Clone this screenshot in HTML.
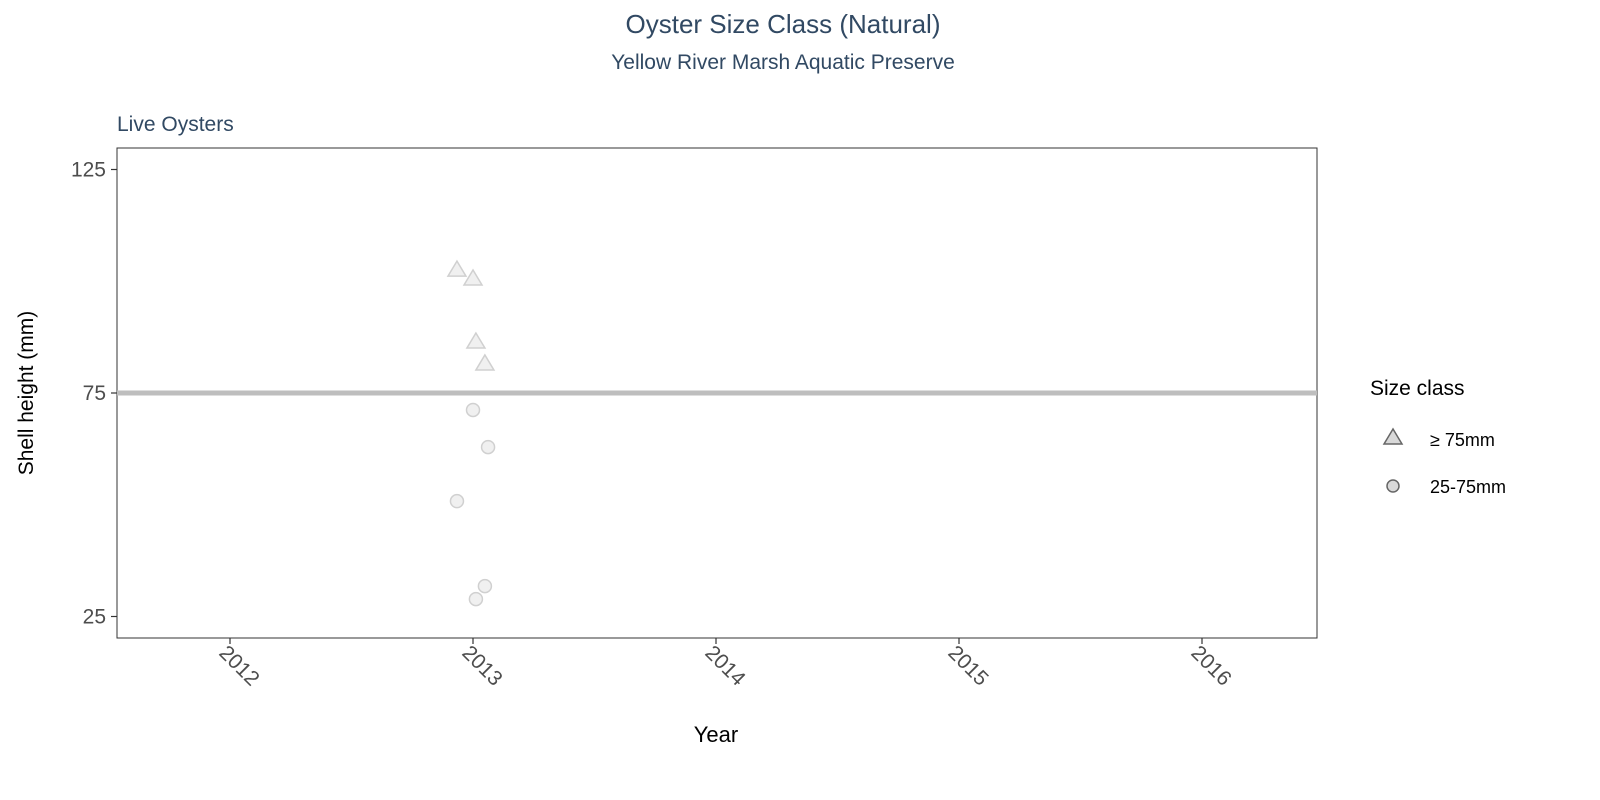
<!DOCTYPE html>
<html><head><meta charset="utf-8"><style>
body{margin:0;background:#fff;font-family:"Liberation Sans",Arial,sans-serif;overflow:hidden}
</style></head><body>
<svg width="1600" height="800" xmlns="http://www.w3.org/2000/svg" font-family="Liberation Sans, Arial, sans-serif" style="display:block">
<text x="783" y="33" text-anchor="middle" font-size="26" fill="#314963">Oyster Size Class (Natural)</text>
<text x="783" y="69" text-anchor="middle" font-size="21" fill="#314963">Yellow River Marsh Aquatic Preserve</text>
<text x="117" y="131" font-size="21" fill="#314963">Live Oysters</text>
<rect x="117" y="148" width="1200" height="490" fill="none" stroke="#333" stroke-width="1"/>
<g id="yaxis"></g>
<g id="xaxis"></g>
<line id="refline" x1="117" x2="1317" stroke="#bebebe" stroke-width="5"/>
<g id="marks"></g>
<text transform="translate(33,393) rotate(-90)" text-anchor="middle" font-size="21" fill="#000">Shell height (mm)</text>
<text x="716" y="742" text-anchor="middle" font-size="22" fill="#000">Year</text>
<g>
<text x="1370" y="395" font-size="21" fill="#000">Size class</text>
<g>
<polygon points="1393,429 1384,444 1402,444" fill="#d9d9d9" stroke="#666" stroke-width="1.5"/>
<text x="1430" y="446" font-size="18" fill="#000">≥ 75mm</text></g>
<g>
<circle cx="1393" cy="486" r="6" fill="#d9d9d9" stroke="#666" stroke-width="1.5"/>
<text x="1430" y="493" font-size="18" fill="#000">25-75mm</text></g>
</g>
</svg>
<script>
const yTicks=[25,75,125];
const xTicks=[2012,2013,2014,2015,2016];
const refValue=75;
const triYears=[2012.934,2013.0,2013.012,2013.049];
const triHeights=[102.5,100.5,86.4,81.5];
const circYears=[2013.0,2013.062,2012.934,2013.049,2013.012];
const circHeights=[71.2,62.9,50.8,31.8,28.9];
const NS="http://www.w3.org/2000/svg";
function y(v){return 393-(v-75)*4.47;}
function x(v){return 230+(v-2012)*243;}
function mk(t,a,p){const e=document.createElementNS(NS,t);for(const k in a)e.setAttribute(k,a[k]);p.appendChild(e);return e;}
const ya=document.getElementById('yaxis'),xa=document.getElementById('xaxis'),m=document.getElementById('marks');
yTicks.forEach(v=>{
 const l=mk('line',{x1:111,x2:117,y1:y(v),y2:y(v),stroke:'#333','stroke-width':1.2},ya);
 
 
 const t=mk('text',{x:106,y:y(v)+7,'text-anchor':'end','font-size':21,fill:'#4d4d4d'},ya);t.textContent=v;
 
 
});
xTicks.forEach(v=>{
 const l=mk('line',{x1:x(v),x2:x(v),y1:638,y2:644,stroke:'#333','stroke-width':1.2},xa);
 
 
 const t=mk('text',{x:0,y:0,'font-size':21,fill:'#4d4d4d',transform:`translate(${x(v)-12},${654}) rotate(45)`},xa);t.textContent=v;
 
 
});
const rl=document.getElementById('refline');rl.setAttribute('y1',y(refValue));rl.setAttribute('y2',y(refValue));
triYears.forEach((yr,i)=>{
 const cx=x(yr),cy=y(triHeights[i]);
 const p=mk('polygon',{points:`${cx},${cy-9} ${cx-9},${cy+6} ${cx+9},${cy+6}`,fill:'#f0f0f0',stroke:'#d0d0d0','stroke-width':1.5},m);
 
 
});
circYears.forEach((yr,i)=>{
 const c=mk('circle',{cx:x(yr),cy:y(circHeights[i]),r:6.5,fill:'#f0f0f0',stroke:'#d0d0d0','stroke-width':1.5},m);
 
 
});
</script>
</body></html>
